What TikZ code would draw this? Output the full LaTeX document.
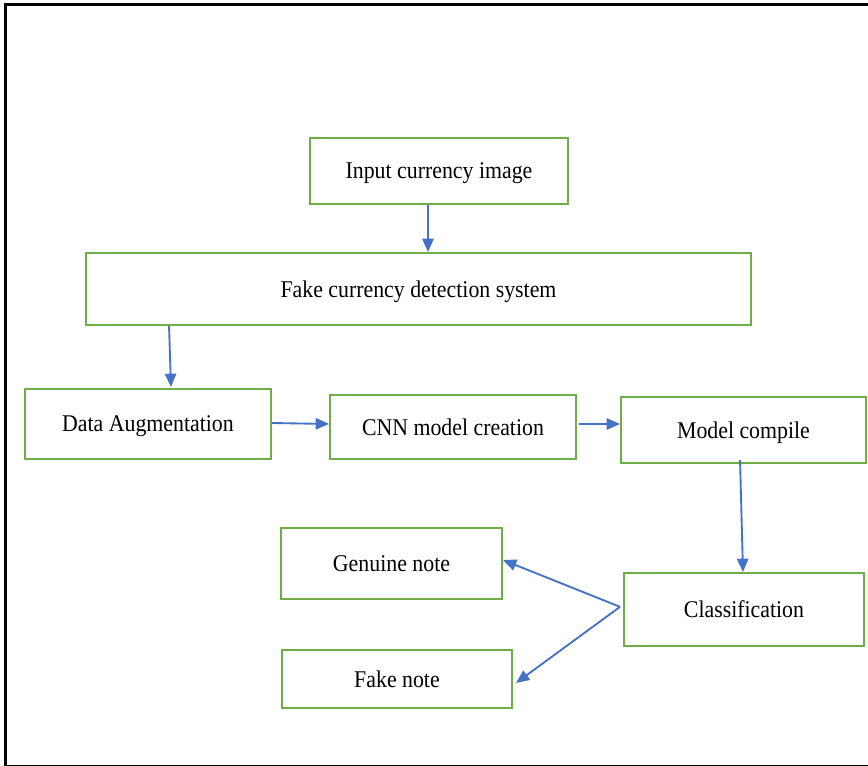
\documentclass[tikz,border=0pt]{standalone}
\usepackage{fontspec}
\setmainfont{Liberation Serif}[FakeStretch=0.91]
\usetikzlibrary{positioning,calc,arrows.meta}
\definecolor{boxgreen}{HTML}{70AD47}
\definecolor{flowblue}{HTML}{4472C4}
\tikzset{
  stage/.style ={draw=boxgreen, line width=1.5pt, align=center, text depth=0pt,
                 font=\fontsize{18}{21}\selectfont, inner sep=0pt},
  flow/.style  ={-{Triangle[length=10pt,width=8.5pt]}, flowblue, line width=1.4pt},
}

\begin{document}
\begin{tikzpicture}[x=0.75pt,y=-0.75pt]
    \useasboundingbox (0,0) rectangle (868,766);
    \clip (0,0) rectangle (868,766);
    % outer frame
    \draw[line width=2.4pt] (5.5,4.5) rectangle (890,767);
    % top row
    \node[stage, minimum width=193.5pt, minimum height=49.5pt] (In)   at (439,171)   {Input currency image};
    \node[stage, minimum width=498.75pt, minimum height=54pt]  (Sys)  at (418.5,289) {Fake currency detection system};
    % middle row
    \node[stage, minimum width=184.5pt, minimum height=52.5pt] (Aug)  at (148,424)   {Data Augmentation};
    \node[stage, minimum width=184.5pt, minimum height=48pt]   (CNN)  at (453,427)   {CNN model creation};
    \node[stage, minimum width=183.75pt, minimum height=49.5pt](Comp) at (743.5,430) {Model compile};
    % results
    \node[stage, minimum width=165.75pt, minimum height=53.25pt](Gen) at (391.5,563.5) {Genuine note};
    \node[stage, minimum width=180pt, minimum height=54.75pt]  (Cls)  at (744,609.5) {Classification};
    \node[stage, minimum width=172.5pt, minimum height=43.5pt] (Fake) at (397,679)   {Fake note};
    % flows
    \draw[flow] ([xshift=-8.25pt]In.south) -- ([xshift=-8.25pt]In.south |- Sys.north);
    \draw[flow] ([xshift=-187.1pt]Sys.south) -- ([xshift=17.25pt,yshift=0.75pt]Aug.north);
    \draw[flow] ([yshift=0.75pt]Aug.east) -- ($(Aug.east -| CNN.west)+(0,0)$);
    \draw[flow] ([xshift=1.5pt,yshift=2.25pt]CNN.east) -- ([yshift=2.25pt]CNN.east -| Comp.west);
    \draw[flow] ([xshift=-2.6pt,yshift=3pt]Comp.south) -- ([xshift=-0.75pt]Cls.north);
    \draw[flow] ([xshift=-2.25pt,yshift=2pt]Cls.west) -- ([yshift=2.6pt]Gen.east);
    \draw[flow] ([xshift=-2.25pt,yshift=2pt]Cls.west) -- ([xshift=2.25pt,yshift=-3pt]Fake.east);
\end{tikzpicture}
\end{document}
